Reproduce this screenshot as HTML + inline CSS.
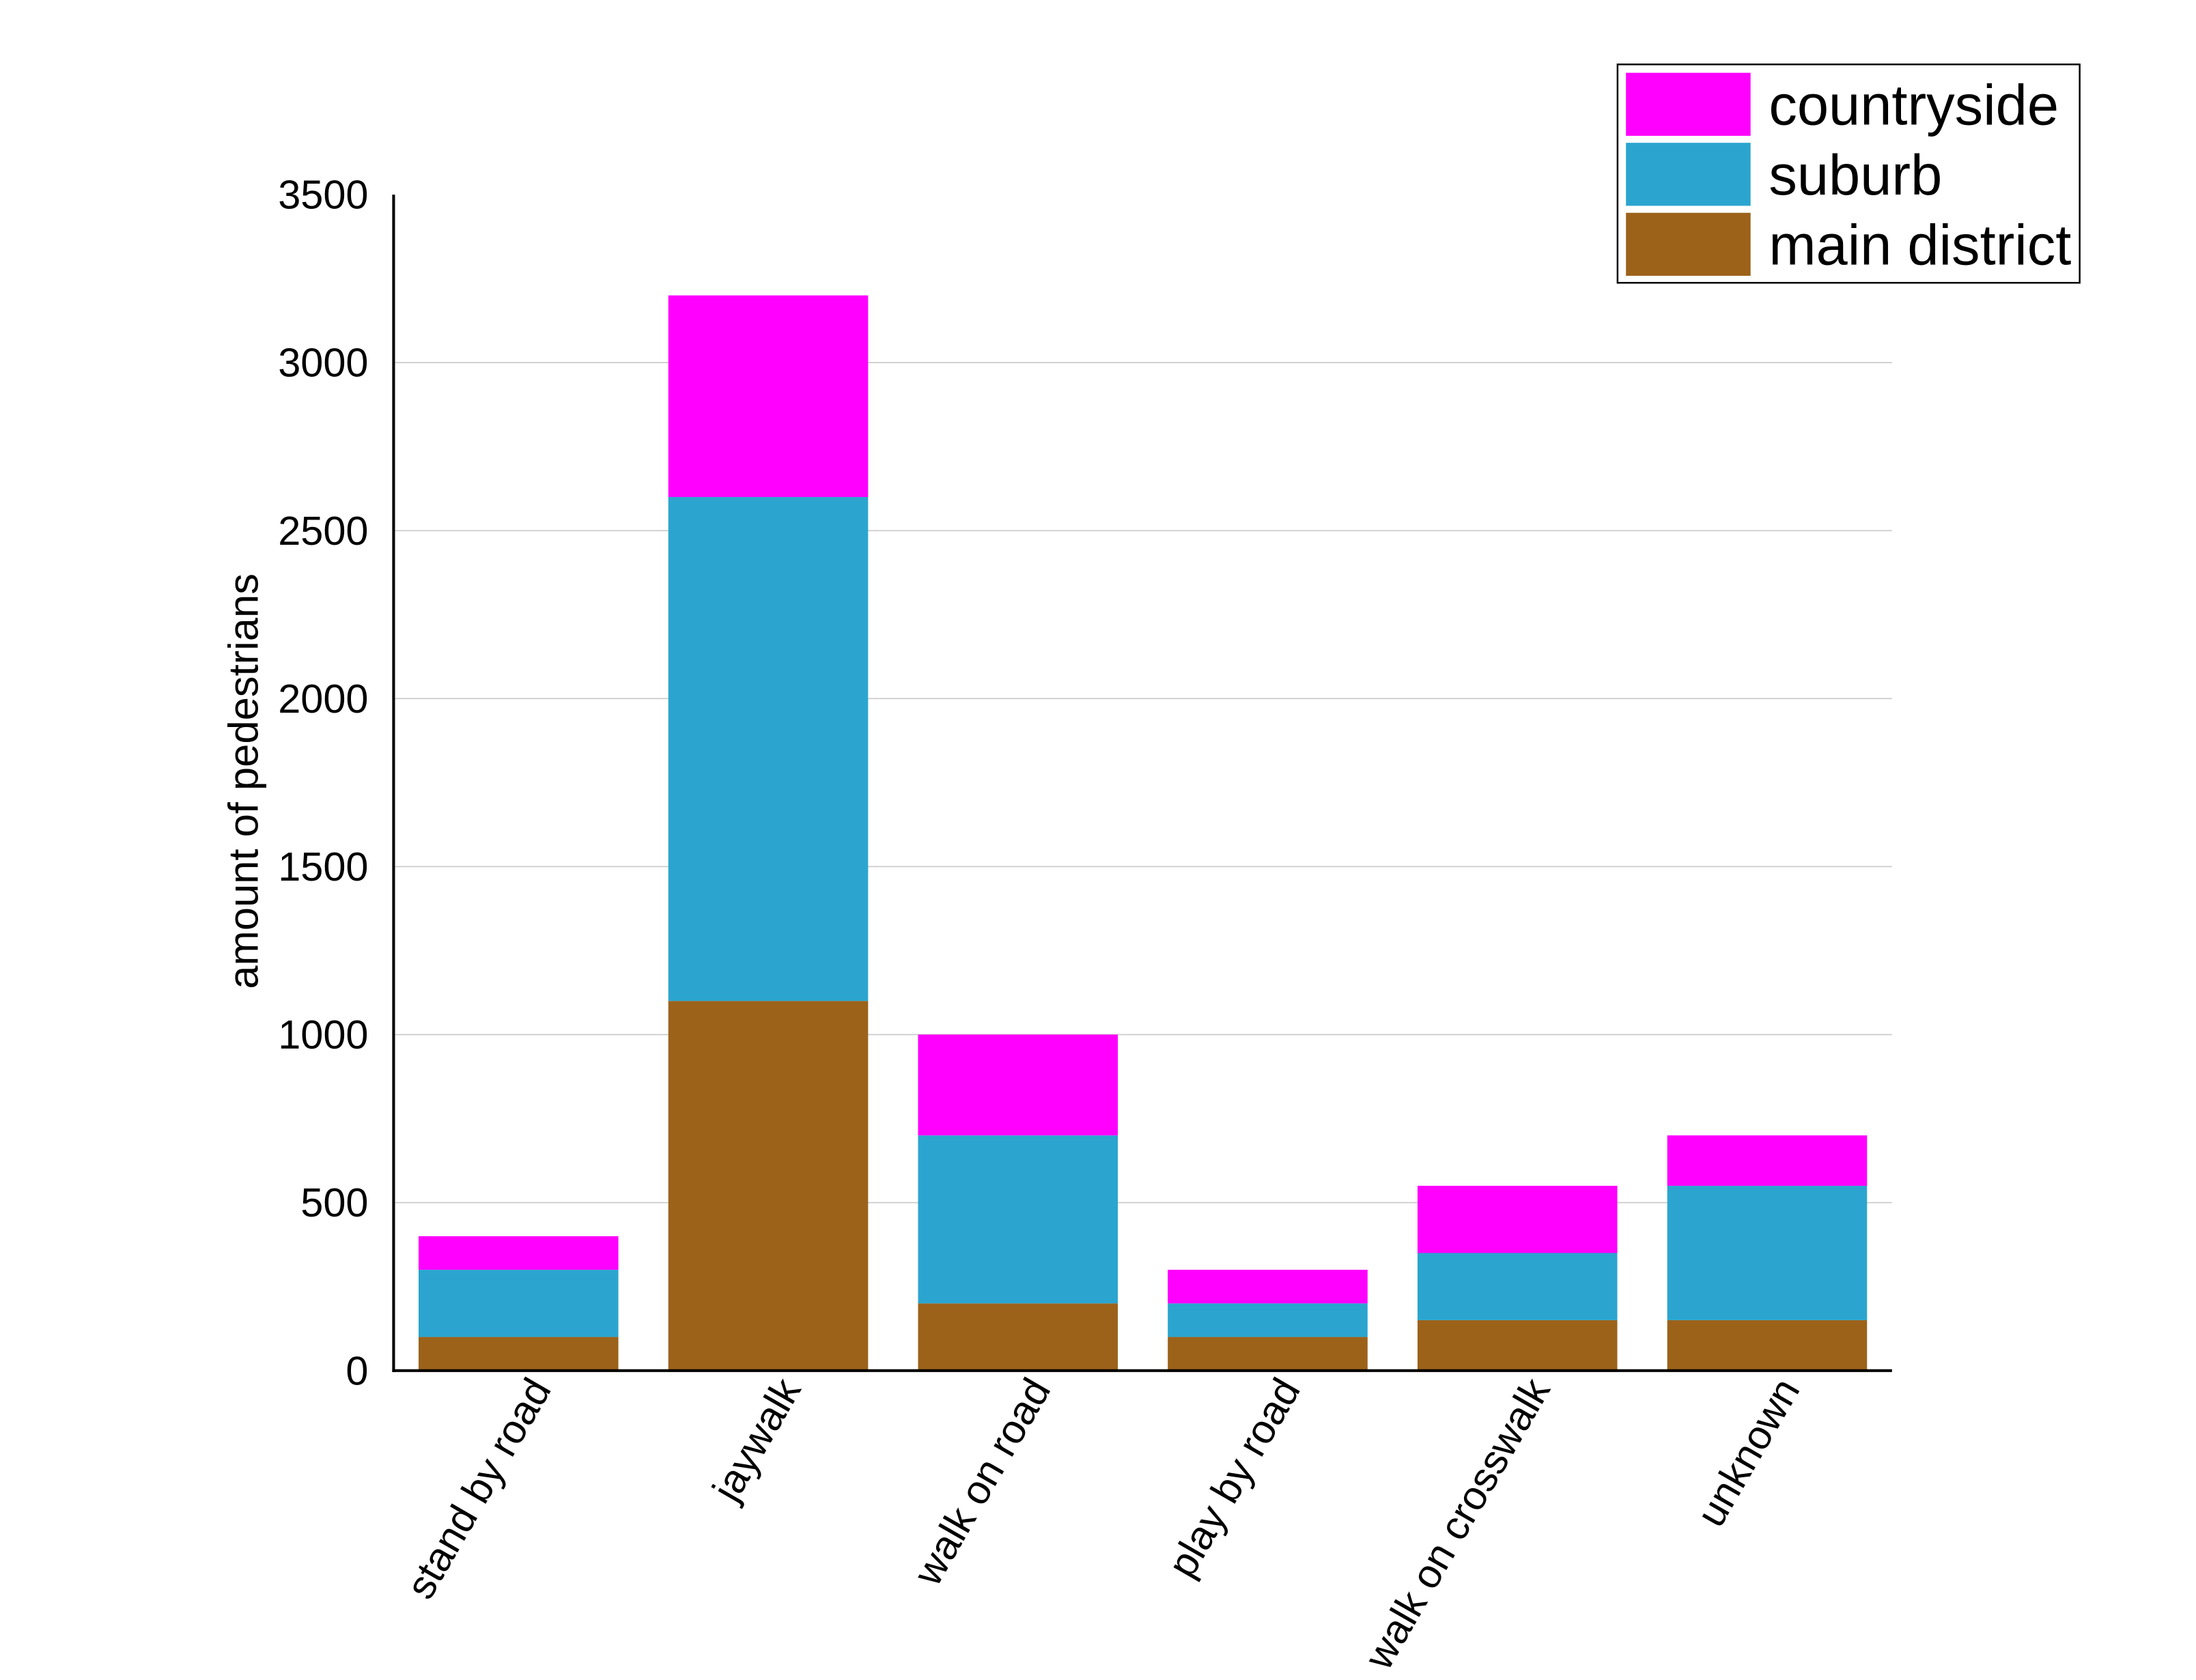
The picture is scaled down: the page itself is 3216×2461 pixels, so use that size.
<!DOCTYPE html>
<html><head><meta charset="utf-8"><style>
html,body{margin:0;padding:0;background:#fff;}
svg{display:block;font-family:"Liberation Sans",Arial,sans-serif;}
</style></head><body>
<svg id="chart" width="3216" height="2461" viewBox="0 0 1568 1200" xmlns="http://www.w3.org/2000/svg">
<g id="grid"></g>
<g id="bars"></g>
<g id="axes"></g>
<text transform="translate(184,558) rotate(-90)" text-anchor="middle" font-size="30">amount of pedestrians</text>
<g>
<rect x="1155" y="46" width="330" height="156" fill="#fff" stroke="#000" stroke-width="1.2"/>
<g><rect x="1161" y="52" width="89" height="45" fill="#ff00ff"/><text x="1263" y="89" font-size="40.5">countryside</text></g>
<g><rect x="1161" y="102" width="89" height="45" fill="#2ba5cf"/><text x="1263" y="139" font-size="40.5">suburb</text></g>
<g><rect x="1161" y="152" width="89" height="45" fill="#9c621a"/><text x="1263" y="189" font-size="40.5">main district</text></g>
</g>
</svg>
<script>
const categories=["stand by road","jaywalk","walk on road","play by road","walk on crosswalk","unknown"];
const mainDistrict=[100,1100,200,100,150,150];
const suburb=[200,1500,500,100,200,400];
const countryside=[100,600,300,100,200,150];
const yTicks=[0,500,1000,1500,2000,2500,3000,3500];
const NS="http://www.w3.org/2000/svg";
const x0=281,x1=1351,yb=979,yt=139,ymax=3500;
const y=v=>yb-(yb-yt)*v/ymax;
const slot=(x1-x0)/categories.length;
const bx=i=>x0+slot*i+slot*0.1;
const bw=slot*0.8;
function mk(tag,attrs,parent){const e=document.createElementNS(NS,tag);for(const k in attrs)e.setAttribute(k,attrs[k]);parent.appendChild(e);return e;}
const grid=document.getElementById('grid'),bars=document.getElementById('bars'),axes=document.getElementById('axes');
yTicks.forEach(t=>{
  if(t>0&&t<ymax){const l=mk('line',{x1:x0,x2:x1,y1:y(t),y2:y(t),stroke:'#c8c8c8','stroke-width':0.8},grid);
  
  }
  const tx=mk('text',{x:263,y:y(t)+10,'text-anchor':'end','font-size':29},axes);tx.textContent=t;
  
  
});
const series=[[mainDistrict,'#9c621a','main-district'],[suburb,'#2ba5cf','suburb'],[countryside,'#ff00ff','countryside']];
categories.forEach((c,i)=>{
  let base=0;
  series.forEach(([arr,col,nm])=>{
    const r=mk('rect',{x:bx(i),width:bw,y:y(base+arr[i]),height:y(base)-y(base+arr[i]),fill:col},bars);
    
    
    base+=arr[i];
  });
  const cx=bx(i)+bw/2;
  const t=mk('text',{transform:`translate(${cx+24},992) rotate(-60)`,'text-anchor':'end','font-size':29},axes);
  t.textContent=c;
  
  
});
const ya=mk('line',{x1:x0,x2:x0,y1:yt,y2:yb+1,stroke:'#000','stroke-width':2},axes);


const xa=mk('line',{x1:x0-1,x2:x1,y1:yb,y2:yb,stroke:'#000','stroke-width':2},axes);


</script>
</body></html>
